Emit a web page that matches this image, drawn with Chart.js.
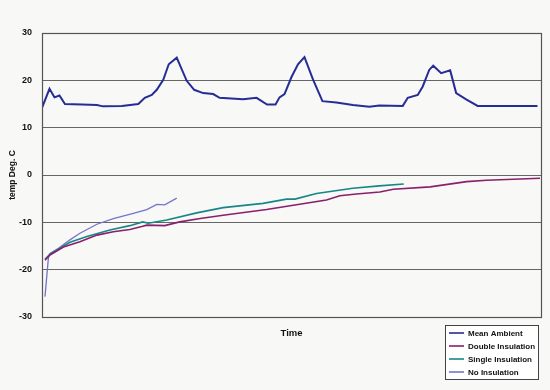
<!DOCTYPE html>
<html>
<head>
<meta charset="utf-8">
<script src="https://cdn.jsdelivr.net/npm/chart.js@4"></script>
<style>
html,body{margin:0;padding:0;background:#f8f8f6;}
#wrap{width:550px;height:390px;position:relative;}
</style>
</head>
<body>
<div id="wrap"><canvas id="c" width="550" height="390"></canvas></div>
<script>
const seriesNames = ['Mean Ambient', 'Double Insulation', 'Single Insulation', 'No Insulation'];
const yTicks = [30, 20, 10, 0, -10, -20, -30];

const ambientT = [0, 1.5, 2.5, 3.5, 4.6, 8, 11, 12.2, 16, 19.3, 20.6, 22, 23, 24.3, 25.4, 27, 29, 30.5, 32.3, 34.3, 35.6, 40.3, 43, 45.1, 46.8, 47.6, 48.6, 50, 51.3, 52.6, 54.3, 56.2, 59, 62.3, 65.6, 67.6, 72.3, 73.3, 75.3, 76.3, 77.6, 78.4, 80, 81.8, 83, 85, 87.3, 99.3];
const ambientV = [14.2, 18.2, 16.4, 16.8, 15.0, 14.9, 14.8, 14.5, 14.6, 15.0, 16.3, 16.9, 18.0, 20.1, 23.4, 24.8, 19.9, 18.0, 17.3, 17.1, 16.3, 16.0, 16.3, 14.9, 14.9, 16.4, 17.1, 20.7, 23.4, 24.9, 20.2, 15.6, 15.3, 14.8, 14.4, 14.7, 14.6, 16.3, 16.9, 18.7, 22.2, 23.1, 21.5, 22.1, 17.3, 16.0, 14.6, 14.6];

const doubleT = [0.6, 1.6, 4.3, 7.6, 11, 14.3, 17.6, 20, 21, 24.6, 27.6, 31.7, 36.3, 45, 51, 57, 59.7, 63, 67.7, 70.4, 77.8, 85.1, 89.1, 99.8];
const doubleV = [-18.0, -16.9, -15.2, -14.1, -12.7, -12.0, -11.5, -10.9, -10.6, -10.7, -9.9, -9.2, -8.5, -7.3, -6.3, -5.3, -4.4, -4.0, -3.6, -3.0, -2.5, -1.4, -1.1, -0.7];

const singleT = [0.6, 1.6, 5.6, 9, 13.6, 17.6, 20.2, 21.3, 25, 31, 36.3, 44.3, 49, 50.7, 55, 62.3, 67.6, 72.5];
const singleV = [-17.8, -16.7, -14.2, -13.0, -11.6, -10.7, -9.9, -10.2, -9.5, -8.0, -6.9, -6.0, -5.1, -5.1, -3.9, -2.8, -2.3, -1.9];

const noneT = [0.6, 1.3, 1.6, 3.3, 5.6, 7.6, 11, 14.3, 18.3, 21, 23, 24.6, 27];
const noneV = [-25.7, -17.3, -16.6, -15.5, -13.7, -12.3, -10.4, -9.2, -8.1, -7.3, -6.2, -6.3, -4.9];

const colors = ['#262c96', '#8a1f6c', '#178686', '#7474c8'];
const widths = [2, 1.6, 1.6, 1.3];

function pts(t, v) { return t.map((x, i) => ({x: x, y: v[i]})); }
const allData = [pts(ambientT, ambientV), pts(doubleT, doubleV), pts(singleT, singleV), pts(noneT, noneV)];

const FONT = '"Liberation Sans", Arial, sans-serif';

const frameAndLegend = {
  id: 'frameAndLegend',
  afterDraw(chart) {
    const ctx = chart.ctx;
    const a = chart.chartArea;
    ctx.save();
    ctx.strokeStyle = '#555';
    ctx.lineWidth = 1.2;
    ctx.strokeRect(Math.round(a.left) + 0.5, Math.round(a.top) + 0.5, Math.round(a.right - a.left), Math.round(a.bottom - a.top));
    // legend box
    const lx = 445, ly = 325, lw = 93, lh = 54;
    ctx.fillStyle = '#ffffff';
    ctx.fillRect(lx, ly, lw, lh);
    ctx.strokeStyle = '#444';
    ctx.lineWidth = 1;
    ctx.strokeRect(lx + 0.5, ly + 0.5, lw, lh);
    ctx.font = 'bold 8px ' + FONT;
    ctx.textBaseline = 'middle';
    ctx.textAlign = 'left';
    chart.data.datasets.forEach((ds, i) => {
      const y = ly + 8 + i * 13;
      ctx.strokeStyle = ds.borderColor;
      ctx.lineWidth = 1.6;
      ctx.beginPath();
      ctx.moveTo(lx + 4, y);
      ctx.lineTo(lx + 19, y);
      ctx.stroke();
      ctx.fillStyle = '#111';
      ctx.fillText(ds.label, lx + 23, y + 0.5);
    });
    ctx.restore();
  }
};

new Chart(document.getElementById('c'), {
  type: 'line',
  data: {
    datasets: seriesNames.map((n, i) => ({
      label: n,
      data: allData[i],
      borderColor: colors[i],
      backgroundColor: colors[i],
      borderWidth: widths[i],
      pointRadius: 0,
      tension: 0,
      fill: false
    }))
  },
  options: {
    responsive: false,
    animation: false,
    layout: { padding: { top: 33, right: 9, left: 8, bottom: 51 } },
    plugins: { legend: { display: false }, tooltip: { enabled: false } },
    scales: {
      x: {
        type: 'linear',
        min: 0,
        max: 100,
        grid: { display: false, drawTicks: false },
        border: { display: false },
        ticks: { display: false },
        title: { display: true, text: 'Time', color: '#111', font: { family: FONT, size: 9.5, weight: 'bold' }, padding: { top: 10, bottom: 0 } },
        afterFit(scale) { scale.height = 22; }
      },
      y: {
        min: -30,
        max: 30,
        afterBuildTicks(scale) { scale.ticks = yTicks.map(v => ({ value: v })); },
        grid: { color: '#666', lineWidth: 1, drawTicks: false },
        border: { display: false },
        ticks: { color: '#111', padding: 10, font: { family: FONT, size: 9, weight: 'bold' } },
        title: { display: true, text: 'temp Deg. C', color: '#111', font: { family: FONT, size: 8.5, weight: 'bold' }, padding: { top: 0, bottom: 0 } },
        afterFit(scale) { scale.width = 34; }
      }
    }
  },
  plugins: [frameAndLegend]
});
</script>
</body>
</html>
